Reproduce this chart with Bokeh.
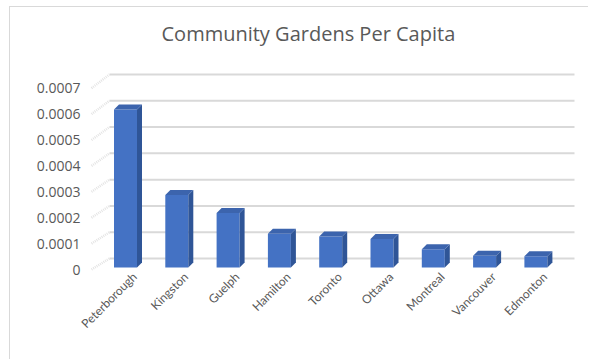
import math
from bokeh.plotting import figure
from bokeh.models import FixedTicker, Range1d
from bokeh.embed import file_html
from bokeh.resources import INLINE

# ---- data ----
cities = ["Peterborough", "Kingston", "Guelph", "Hamilton", "Toronto",
          "Ottawa", "Montreal", "Vancouver", "Edmonton"]
per_capita = [0.00061, 0.00028, 0.00021, 0.00013, 0.00012,
              0.00011, 0.00007, 0.000045, 0.000043]
y_ticks = [0, 0.0001, 0.0002, 0.0003, 0.0004, 0.0005, 0.0006, 0.0007]
y_tick_labels = ["0", "0.0001", "0.0002", "0.0003", "0.0004",
                 "0.0005", "0.0006", "0.0007"]
title_text = "Community Gardens Per Capita"

# ---- geometry (pixel -> data helpers) ----
MARGIN_L, MARGIN_T = 9, 6            # chart-area border offset in the page
W, H = 590 - MARGIN_L - 2, 361 - MARGIN_T - 2
F_LEFT, F_RIGHT, F_TOP, F_BOTTOM = 84 - MARGIN_L, 580 - MARGIN_L, 55 - MARGIN_T, 270 - MARGIN_T
X0_PX, X_STEP = 124.0 - MARGIN_L, 51.3   # px of first category, px per category
Y0_PX, Y_SCALE = 268.0 - MARGIN_T, 259000.0

def px_x(dpx):
    return dpx / X_STEP

def px_y(dpx):
    return dpx / Y_SCALE

x_start = (F_LEFT - X0_PX) / X_STEP
x_end = (F_RIGHT - X0_PX) / X_STEP
y_start = -(F_BOTTOM - Y0_PX) / Y_SCALE
y_end = (Y0_PX - F_TOP) / Y_SCALE

GRID_COLOR = "#d9d9d9"
TEXT_COLOR = "#595959"
FONT = "Open Sans"

p = figure(width=W, height=H, output_backend="svg", toolbar_location=None,
           x_range=Range1d(x_start, x_end), y_range=Range1d(y_start, y_end),
           min_border_left=F_LEFT, min_border_right=W - F_RIGHT,
           min_border_top=F_TOP, min_border_bottom=H - F_BOTTOM,
           background_fill_color="white", border_fill_color="white",
           title=title_text, margin=(MARGIN_T, 0, 0, MARGIN_L))
p.styles = {"border-top": "1.5px solid " + GRID_COLOR,
            "border-left": "1.5px solid " + GRID_COLOR}
p.outline_line_color = None
p.xgrid.visible = False
p.ygrid.visible = False

p.title.align = "left"
p.title.offset = 163 - 84 - 3
p.title.standoff = 20
p.title.text_font = FONT
p.title.text_font_size = "20px"
p.title.text_font_style = "normal"
p.title.text_color = TEXT_COLOR

# ---- back-wall gridlines (3D offset) ----
grid_x0 = px_x(108 - 124)
grid_x1 = px_x(573 - 124)
wall_x = px_x(90 - 124)
grid_y = [v * 1.015 + px_y(11) for v in y_ticks]
p.segment(x0=[grid_x0] * len(y_ticks), y0=grid_y,
          x1=[grid_x1] * len(y_ticks), y1=grid_y,
          line_color=GRID_COLOR, line_width=2)
# side-wall diagonal marks
p.segment(x0=[wall_x] * len(y_ticks), y0=y_ticks,
          x1=[grid_x0] * len(y_ticks), y1=grid_y,
          line_color="#e4e4e4", line_width=2.5, line_dash="1 1")

# ---- 3D bars ----
half = px_x(11.5)
dx, dy = px_x(5), px_y(5)
base = px_y(2)
xs = list(range(len(cities)))
left = [i - half for i in xs]
right = [i + half for i in xs]
bottom = [base] * len(xs)
top = [base + v for v in per_capita]

p.quad(left=left, right=right, bottom=bottom, top=top,
       fill_color="#4472c4", line_color=None)

side_xs = [[r, r + dx, r + dx, r] for r in right]
side_ys = [[b, b + dy, t + dy, t] for b, t in zip(bottom, top)]
p.patches(side_xs, side_ys, fill_color="#2f5597", line_color=None)

top_xs = [[l, l + dx, r + dx, r] for l, r in zip(left, right)]
top_ys = [[t, t + dy, t + dy, t] for t in top]
p.patches(top_xs, top_ys, fill_color="#3c64ad", line_color=None)

# ---- axes ----
label_shift = px_x(9)
x_tick_pos = [i + label_shift for i in xs]
p.xaxis.ticker = FixedTicker(ticks=x_tick_pos)
p.xaxis.major_label_overrides = {t: c for t, c in zip(x_tick_pos, cities)}
p.xaxis.major_label_orientation = math.pi / 4
p.xaxis.axis_line_color = None
p.xaxis.major_tick_line_color = None
p.xaxis.minor_tick_line_color = None
p.xaxis.major_tick_out = 0
p.xaxis.major_label_text_color = TEXT_COLOR
p.xaxis.major_label_text_font = "Lato"
p.xaxis.major_label_text_font_size = "12px"
p.xaxis.major_label_standoff = 3

p.yaxis.ticker = FixedTicker(ticks=y_ticks)
p.yaxis.major_label_overrides = {v: s for v, s in zip(y_ticks, y_tick_labels)}
p.yaxis.axis_line_color = None
p.yaxis.major_tick_line_color = None
p.yaxis.minor_tick_line_color = None
p.yaxis.major_tick_out = 0
p.yaxis.major_label_text_color = TEXT_COLOR
p.yaxis.major_label_text_font = FONT
p.yaxis.major_label_text_font_size = "14px"
p.yaxis.major_label_standoff = 5

open("out.html", "w").write(file_html(p, INLINE))
